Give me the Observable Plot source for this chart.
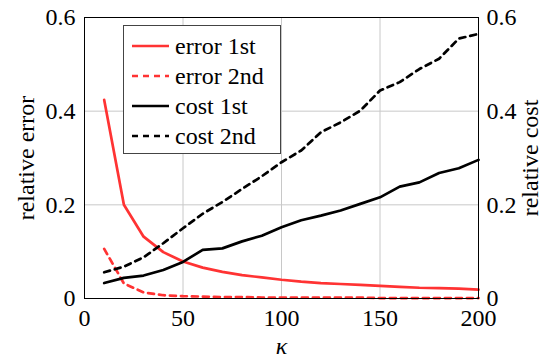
<!DOCTYPE html>
<html>
<head>
<meta charset="utf-8">
<script src="https://cdn.jsdelivr.net/npm/d3@7"></script>
<script src="https://cdn.jsdelivr.net/npm/@observablehq/plot@0.6"></script>
<style>
  html, body { margin: 0; padding: 0; background: white; }
  #wrap { position: relative; width: 555px; height: 361px; }
  #wrap svg text { font-family: 'Liberation Serif', serif; font-size: 24px; fill: black; }
  #legend {
    position: absolute; left: 123px; top: 25px; width: 156px; height: 127px;
    border: 1px solid #444; background: white; box-sizing: content-box;
    font-family: 'Liberation Serif', serif; font-size: 24px; color: black;
  }
  .row { position: absolute; left: 0; height: 30px; display: flex; align-items: center; }
  .row svg { margin-left: 8px; margin-right: 6px; }
</style>
</head>
<body>
<div id="wrap"></div>
<script>
const kappa = [10, 20, 30, 40, 50, 60, 70, 80, 90, 100, 110, 120, 130, 140, 150, 160, 170, 180, 190, 200];
const error1st = [0.424, 0.200, 0.132, 0.099, 0.079, 0.066, 0.057, 0.050, 0.045, 0.040, 0.036, 0.033, 0.031, 0.029, 0.027, 0.025, 0.023, 0.022, 0.021, 0.019];
const error2nd = [0.106, 0.032, 0.013, 0.007, 0.005, 0.004, 0.003, 0.003, 0.002, 0.002, 0.002, 0.002, 0.002, 0.002, 0.001, 0.001, 0.001, 0.001, 0.001, 0.001];
const cost1st = [0.033, 0.044, 0.049, 0.061, 0.078, 0.104, 0.107, 0.122, 0.134, 0.152, 0.167, 0.177, 0.188, 0.202, 0.216, 0.239, 0.248, 0.268, 0.278, 0.296];
const cost2nd = [0.056, 0.068, 0.088, 0.118, 0.150, 0.181, 0.206, 0.234, 0.261, 0.291, 0.316, 0.355, 0.376, 0.401, 0.444, 0.462, 0.490, 0.512, 0.555, 0.565];
const seriesNames = ["error 1st", "error 2nd", "cost 1st", "cost 2nd"];
const seriesColors = ["#ff3333", "#ff3333", "#000000", "#000000"];
const seriesDash = [null, "6,5", null, "6,5"];
const seriesValues = [error1st, error2nd, cost1st, cost2nd];
const xTicks = [0, 50, 100, 150, 200];
const yTicks = [0, 0.2, 0.4, 0.6];
const fmt = d => d === 0 ? "0" : d.toFixed(1);
const serif = "'Liberation Serif', serif";

const lineMarks = seriesNames.map((name, s) =>
  Plot.lineY(kappa.map((k, i) => ({k, v: seriesValues[s][i]})), {
    x: "k", y: "v", stroke: seriesColors[s], strokeWidth: 2.7,
    strokeDasharray: seriesDash[s] || undefined
  })
);

const chart = Plot.plot({
  width: 555, height: 361,
  marginLeft: 84, marginRight: 77, marginTop: 17, marginBottom: 63,
  x: {domain: [0, 200]},
  y: {domain: [0, 0.6]},
  style: {fontFamily: serif, fontSize: "24px", background: "white", color: "black"},
  marks: [
    Plot.gridX(xTicks, {stroke: "#c8c8c8", strokeOpacity: 1}),
    Plot.gridY(yTicks, {stroke: "#c8c8c8", strokeOpacity: 1}),
    ...lineMarks,
    Plot.frame({stroke: "black", strokeWidth: 1}),
    Plot.axisX({ticks: xTicks, tickSize: 0, tickPadding: 10, tickFormat: d => String(d),
      label: "κ", labelAnchor: "center", labelArrow: "none", labelOffset: 55}),
    Plot.axisY({anchor: "left", ticks: yTicks, tickSize: 0, tickPadding: 9, tickFormat: fmt,
      label: "relative error", labelAnchor: "center", labelArrow: "none", labelOffset: 68}),
    Plot.axisY({anchor: "right", ticks: yTicks, tickSize: 0, tickPadding: 8, tickFormat: fmt,
      label: "relative cost", labelAnchor: "center", labelArrow: "none", labelOffset: 59})
  ]
});

d3.select(chart).selectAll("text").filter(function() { return this.textContent === "κ"; })
  .attr("font-style", "italic");

const wrap = document.getElementById("wrap");
wrap.appendChild(chart);

const legend = document.createElement("div");
legend.id = "legend";
seriesNames.forEach((name, s) => {
  const row = document.createElement("div");
  row.className = "row";
  row.style.top = (5 + s * 30) + "px";
  row.innerHTML = `<svg width="37" height="6"><line x1="0" y1="3" x2="37" y2="3" stroke="${seriesColors[s]}" stroke-width="2.7" ${seriesDash[s] ? `stroke-dasharray="${seriesDash[s]}"` : ""}/></svg><span>${name}</span>`;
  legend.appendChild(row);
});
wrap.appendChild(legend);
</script>
</body>
</html>
